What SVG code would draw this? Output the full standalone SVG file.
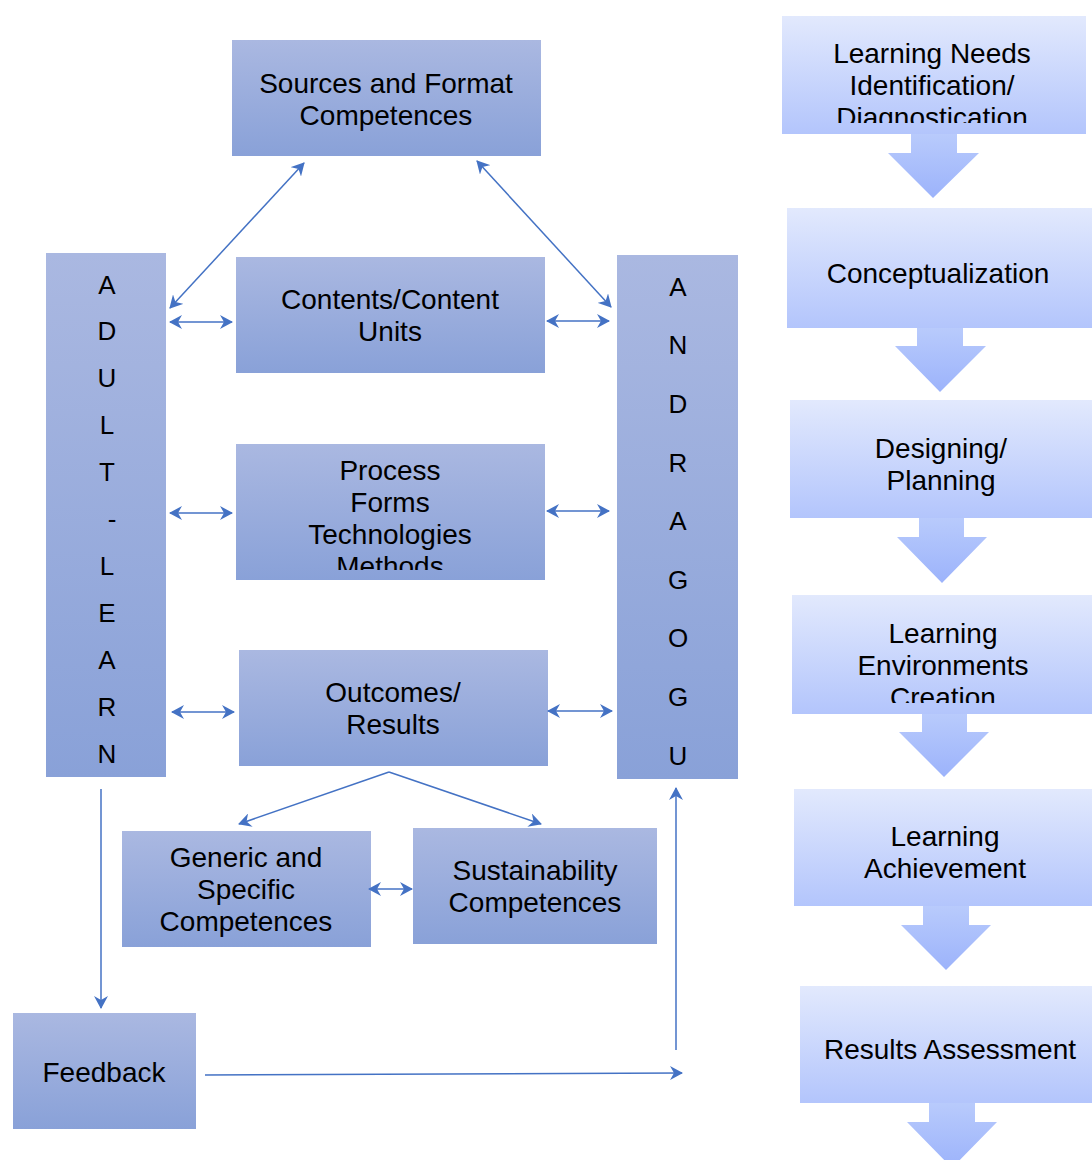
<svg xmlns="http://www.w3.org/2000/svg" width="1092" height="1160" viewBox="0 0 1092 1160">
<defs>
<linearGradient id="gL" x1="0" y1="0" x2="0" y2="1"><stop offset="0" stop-color="#aab8e1"/><stop offset="1" stop-color="#89a1d8"/></linearGradient>
<linearGradient id="gR" x1="0" y1="0" x2="0" y2="1"><stop offset="0" stop-color="#e2e9fd"/><stop offset="1" stop-color="#b3c5fc"/></linearGradient>
<linearGradient id="gA" x1="0" y1="0" x2="0" y2="1"><stop offset="0" stop-color="#b9cbfc"/><stop offset="1" stop-color="#9cb3fb"/></linearGradient>
<marker id="ah" viewBox="0 0 13 14" refX="12" refY="7" markerWidth="13" markerHeight="14" markerUnits="userSpaceOnUse" orient="auto-start-reverse"><path d="M0,0 L13,7 L0,14 L4,7 z" fill="#4472c4"/></marker>
<clipPath id="c1"><rect x="782" y="16" width="304" height="107"/></clipPath>
<clipPath id="c4"><rect x="792" y="595" width="300" height="108"/></clipPath>
<clipPath id="cP"><rect x="236" y="444" width="309" height="126"/></clipPath>
</defs>
<style>
.bl{fill:url(#gL)}
.br{fill:url(#gR)}
.ar{fill:url(#gA)}
text{font-family:"Liberation Sans",Arial,sans-serif;font-size:28px;fill:#000;text-anchor:middle}
.v{font-size:26px}
.c{fill:none;stroke:#4472c4;stroke-width:1.5}
</style>

<g id="sources"><rect class="bl" x="232" y="40" width="309" height="116"/><text x="386" y="93">Sources and Format</text><text x="386" y="125">Competences</text></g>
<g id="contents"><rect class="bl" x="236" y="257" width="309" height="116"/><text x="390" y="309">Contents/Content</text><text x="390" y="341">Units</text></g>
<g id="process"><rect class="bl" x="236" y="444" width="309" height="136"/><g clip-path="url(#cP)"><text x="390" y="480">Process</text><text x="390" y="512">Forms</text><text x="390" y="544">Technologies</text><text x="390" y="576">Methods</text></g></g>
<g id="outcomes"><rect class="bl" x="239" y="650" width="309" height="116"/><text x="393" y="702">Outcomes/</text><text x="393" y="734">Results</text></g>
<g id="generic"><rect class="bl" x="122" y="831" width="249" height="116"/><text x="246" y="867">Generic and</text><text x="246" y="899">Specific</text><text x="246" y="931">Competences</text></g>
<g id="sustain"><rect class="bl" x="413" y="828" width="244" height="116"/><text x="535" y="880">Sustainability</text><text x="535" y="912">Competences</text></g>
<g id="feedback"><rect class="bl" x="13" y="1013" width="183" height="116"/><text x="104" y="1082">Feedback</text></g>
<g id="adult"><rect class="bl" x="46" y="253" width="120" height="524"/>
<text class="v" x="107" y="294">A</text><text class="v" x="107" y="340">D</text><text class="v" x="107" y="387">U</text><text class="v" x="107" y="434">L</text><text class="v" x="107" y="481">T</text><text class="v" x="112" y="528">-</text><text class="v" x="107" y="575">L</text><text class="v" x="107" y="622">E</text><text class="v" x="107" y="669">A</text><text class="v" x="107" y="716">R</text><text class="v" x="107" y="763">N</text></g>
<g id="andragogu"><rect class="bl" x="617" y="255" width="121" height="524"/>
<text class="v" x="678" y="296">A</text><text class="v" x="678" y="354">N</text><text class="v" x="678" y="413">D</text><text class="v" x="678" y="472">R</text><text class="v" x="678" y="530">A</text><text class="v" x="678" y="589">G</text><text class="v" x="678" y="647">O</text><text class="v" x="678" y="706">G</text><text class="v" x="678" y="765">U</text></g>

<g id="connectors">
<line class="c" x1="170" y1="308" x2="304" y2="163" marker-start="url(#ah)" marker-end="url(#ah)"/>
<line class="c" x1="477" y1="161" x2="611" y2="307" marker-start="url(#ah)" marker-end="url(#ah)"/>
<line class="c" x1="170" y1="322" x2="232" y2="322" marker-start="url(#ah)" marker-end="url(#ah)"/>
<line class="c" x1="547" y1="321" x2="609" y2="321" marker-start="url(#ah)" marker-end="url(#ah)"/>
<line class="c" x1="170" y1="513" x2="232" y2="513" marker-start="url(#ah)" marker-end="url(#ah)"/>
<line class="c" x1="547" y1="511" x2="609" y2="511" marker-start="url(#ah)" marker-end="url(#ah)"/>
<line class="c" x1="172" y1="712" x2="234" y2="712" marker-start="url(#ah)" marker-end="url(#ah)"/>
<line class="c" x1="548" y1="711" x2="612" y2="711" marker-start="url(#ah)" marker-end="url(#ah)"/>
<line class="c" x1="389" y1="772" x2="239" y2="824" marker-end="url(#ah)"/>
<line class="c" x1="389" y1="772" x2="541" y2="824" marker-end="url(#ah)"/>
<line class="c" x1="369" y1="889" x2="412" y2="889" marker-start="url(#ah)" marker-end="url(#ah)"/>
<line class="c" x1="101" y1="789" x2="101" y2="1008" marker-end="url(#ah)"/>
<line class="c" x1="205" y1="1075" x2="682" y2="1073" marker-end="url(#ah)"/>
<line class="c" x1="676" y1="1050" x2="676" y2="788" marker-end="url(#ah)"/>
</g>

<g id="step1"><path class="ar" d="M911,133 H957 V153 H979 L933,198 L888,153 H911 Z"/><rect class="br" x="782" y="16" width="304" height="118"/><g clip-path="url(#c1)"><text x="932" y="63">Learning Needs</text><text x="932" y="95">Identification/</text><text x="932" y="127">Diagnostication</text></g></g>
<g id="step2"><path class="ar" d="M917,327 H963 V346 H986 L940,392 L895,346 H917 Z"/><rect class="br" x="787" y="208" width="305" height="120"/><text x="938" y="283">Conceptualization</text></g>
<g id="step3"><path class="ar" d="M919,517 H964 V537 H987 L942,583 L897,537 H919 Z"/><rect class="br" x="790" y="400" width="302" height="118"/><text x="941" y="458">Designing/</text><text x="941" y="490">Planning</text></g>
<g id="step4"><path class="ar" d="M922,713 H967 V732 H989 L944,777 L899,732 H922 Z"/><rect class="br" x="792" y="595" width="300" height="119"/><g clip-path="url(#c4)"><text x="943" y="643">Learning</text><text x="943" y="675">Environments</text><text x="943" y="707">Creation</text></g></g>
<g id="step5"><path class="ar" d="M923,905 H969 V925 H991 L946,970 L901,925 H923 Z"/><rect class="br" x="794" y="789" width="298" height="117"/><text x="945" y="846">Learning</text><text x="945" y="878">Achievement</text></g>
<g id="step6"><path class="ar" d="M929,1102 H975 V1122 H997 L952,1168 L907,1122 H929 Z"/><rect class="br" x="800" y="986" width="292" height="117"/><text x="950" y="1059">Results Assessment</text></g>
</svg>
